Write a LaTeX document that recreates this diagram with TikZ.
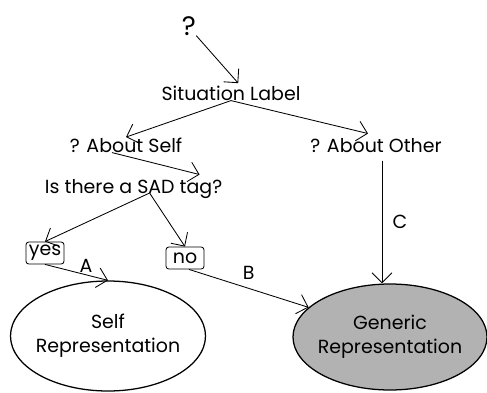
\documentclass[tikz,border=0pt]{standalone}
\usepackage{fontspec}
\setmainfont{Poppins}
\usetikzlibrary{arrows.meta,calc,shapes.geometric}

\tikzset{
  txt/.style={inner sep=0pt,anchor=base},
  answer/.style={draw,rounded corners=2pt,minimum width=0.95cm,minimum height=0.55cm,inner sep=1pt},
  repr/.style={draw,line width=0.9pt,ellipse,inner xsep=-3pt,inner ysep=0pt,align=center},
}

\begin{document}
\begin{tikzpicture}[x=1cm,>={Straight Barb[length=2.5mm,width=5mm]},line width=0.6pt,font=\fontsize{13.5}{15}\selectfont]
      \useasboundingbox (0,0) rectangle (12.175,9.8);
      \node[txt,font=\fontsize{19}{21}\selectfont] (q) at (4.72,8.925) {?};
      \node[txt] (sit) at (5.775,7.3) {Situation Label};
      \node[txt] (self) at (3.15,6.0) {? About Self};
      \node[txt] (other) at (9.40,6.0) {? About Other};
      \node[txt] (sad) at (3.34,4.975) {Is there a SAD tag?};
      \node[answer] (yes) at (1.125,3.475) {yes};
      \node[answer] (no) at (4.625,3.35) {no};
      \node[repr,minimum width=4.875cm,minimum height=2.75cm] (selfrep) at (2.7,1.4) {Self\\[2pt]Representation};
      \node[repr,fill=black!30,minimum width=4.85cm,minimum height=2.65cm] (generic) at (9.75,1.375) {Generic\\[2pt]Representation};
      %
      \draw[->] (q.south east) -- ($(sit.north)+(0.18,0.05)$);
      \draw[->] (sit.south) -- (self.north);
      \draw[->] (sit.south) -- ($(other.north)+(-0.2,0.1)$);
      \draw[->] ($(self.south)+(-0.35,0)$) -- ($(sad.north)+(1.65,0.1)$);
      \draw[->] ($(sad.base)+(0.4,0)$) -- (yes.north);
      \draw[->] ($(sad.base)+(0.4,0)$) -- (no.north);
      %
      \draw[->] (yes.south) -- node[pos=0.65,above,inner sep=1pt] {A} (selfrep.north);
      \draw[->] ($(no.south)+(0.1,0)$) -- node[midway,above=3pt] {B} (generic.160);
      \draw[->] ($(other.south)+(0.15,-0.2)$) coordinate (c0) -- node[midway,right=4pt] {C} (c0 |- generic.north);
    \end{tikzpicture}
\end{document}
